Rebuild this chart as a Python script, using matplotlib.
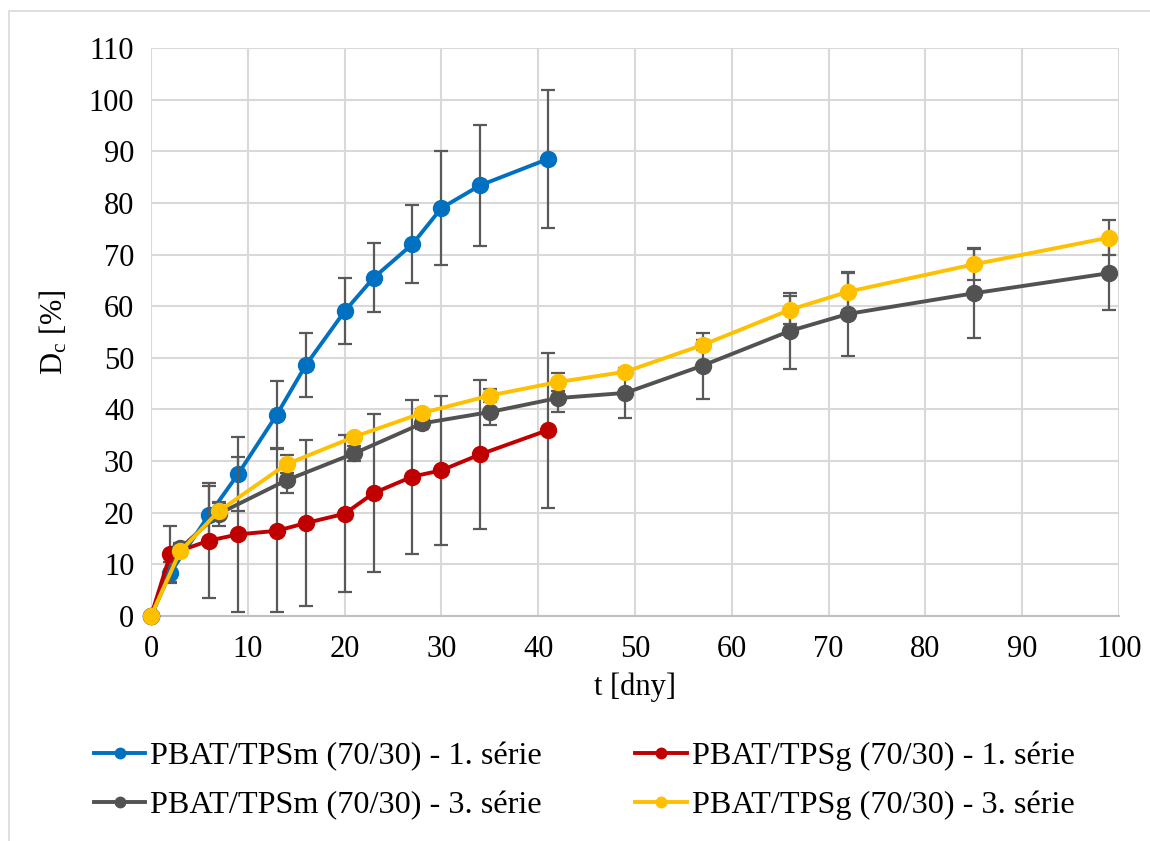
import matplotlib.pyplot as plt
from matplotlib.lines import Line2D
from matplotlib.patches import Rectangle

plt.rcParams.update({
    "font.family": "Liberation Serif",
    "mathtext.fontset": "custom",
    "mathtext.rm": "Liberation Serif",
    "mathtext.it": "Liberation Serif:italic",
    "font.size": 22,
})

# series 1 (TPSm, TPSg) and series 3 share their sampling days
days_1 = [0, 2, 6, 9, 13, 16, 20, 23, 27, 30, 34, 41]
days_3 = [0, 3, 7, 14, 21, 28, 35, 42, 49, 57, 66, 72, 85, 99]

tpsm_1 = [0, 8.4, 19.6, 27.5, 39.0, 48.6, 59.0, 65.5, 72.0, 79.0, 83.4, 88.5]
tpsm_1_err = [0, 2.0, 5.5, 7.2, 6.5, 6.2, 6.4, 6.7, 7.5, 11.0, 11.7, 13.3]

tpsg_1 = [0, 12.0, 14.6, 15.8, 16.5, 18.0, 19.8, 23.8, 27.0, 28.2, 31.3, 36.0]
tpsg_1_err = [0, 5.4, 11.2, 15.0, 15.8, 16.0, 15.2, 15.3, 14.9, 14.5, 14.5, 15.0]

tpsm_3 = [0, 13.1, 19.8, 26.3, 31.5, 37.3, 39.5, 42.2, 43.2, 48.5, 55.2, 58.5, 62.5, 66.4]
tpsm_3_err = [0, 1.0, 2.3, 2.4, 1.5, 1.0, 2.6, 2.6, 4.8, 6.4, 7.4, 8.2, 8.6, 7.1]

tpsg_3 = [0, 12.5, 20.3, 29.4, 34.7, 39.3, 42.7, 45.3, 47.3, 52.5, 59.3, 62.8, 68.1, 73.3]
tpsg_3_err = [0, 0.8, 1.5, 1.8, 0.5, 0.8, 1.3, 1.7, 0.5, 1.0, 2.7, 3.6, 3.1, 3.4]

labels = [
    "PBAT/TPSm (70/30) - 1. série",
    "PBAT/TPSg (70/30) - 1. série",
    "PBAT/TPSm (70/30) - 3. série",
    "PBAT/TPSg (70/30) - 3. série",
]
colors = ["#0070C0", "#C00000", "#525252", "#FFC000"]

fig = plt.figure(figsize=(11.5, 8.41), dpi=100)
ax = fig.add_axes([151 / 1150, 1 - 616 / 841, (1119 - 151) / 1150, (616 - 48) / 841])

series = [
    (days_1, tpsm_1, tpsm_1_err),
    (days_1, tpsg_1, tpsg_1_err),
    (days_3, tpsm_3, tpsm_3_err),
    (days_3, tpsg_3, tpsg_3_err),
]
for i, ((x, y, err), color) in enumerate(zip(series, colors)):
    # no error bar at t = 0
    ax.errorbar(x[1:], y[1:], yerr=err[1:], fmt="none", ecolor="#595959",
                elinewidth=1.6, capsize=5, capthick=1.6, zorder=3 + i)
    ax.plot(x, y, color=color, lw=2.8, marker="o", markersize=11.5,
            zorder=3 + i + 0.5, clip_on=False)

ax.set_xlim(0, 100)
ax.set_ylim(0, 110)
ax.set_xticks(range(0, 101, 10))
ax.set_yticks(range(0, 111, 10))
ax.grid(True, color="#D9D9D9", lw=1.5)
ax.set_axisbelow(True)
for side in ["top", "right", "left"]:
    ax.spines[side].set_visible(False)
ax.spines["bottom"].set_color("#BFBFBF")
ax.spines["bottom"].set_linewidth(1.5)
ax.tick_params(length=0, pad=14)
ax.tick_params(axis="y", pad=12)

ax.set_xlabel("t [dny]", labelpad=6)
ax.set_ylabel("D$_\\mathrm{c}$ [%]", labelpad=14)

# legend fills column by column, so reorder to get the 1. série entries on the top row
order = [0, 2, 1, 3]
handles = [Line2D([], [], color=colors[k], lw=2.8, marker="o", markersize=7.5) for k in order]
fig.legend(handles, [labels[k] for k in order], ncol=2, loc="center",
           bbox_to_anchor=(0.508, 1 - 781 / 841), frameon=False, fontsize=23.2,
           handlelength=1.6, handletextpad=0.15, columnspacing=2.9, labelspacing=0.6)

fig.patches.append(Rectangle((9 / 1150, -0.1), 2, 0.1 + (841 - 11) / 841,
                             transform=fig.transFigure, fill=False,
                             edgecolor="#D9D9D9", lw=1.2))

fig.savefig("out.png", dpi=100)
